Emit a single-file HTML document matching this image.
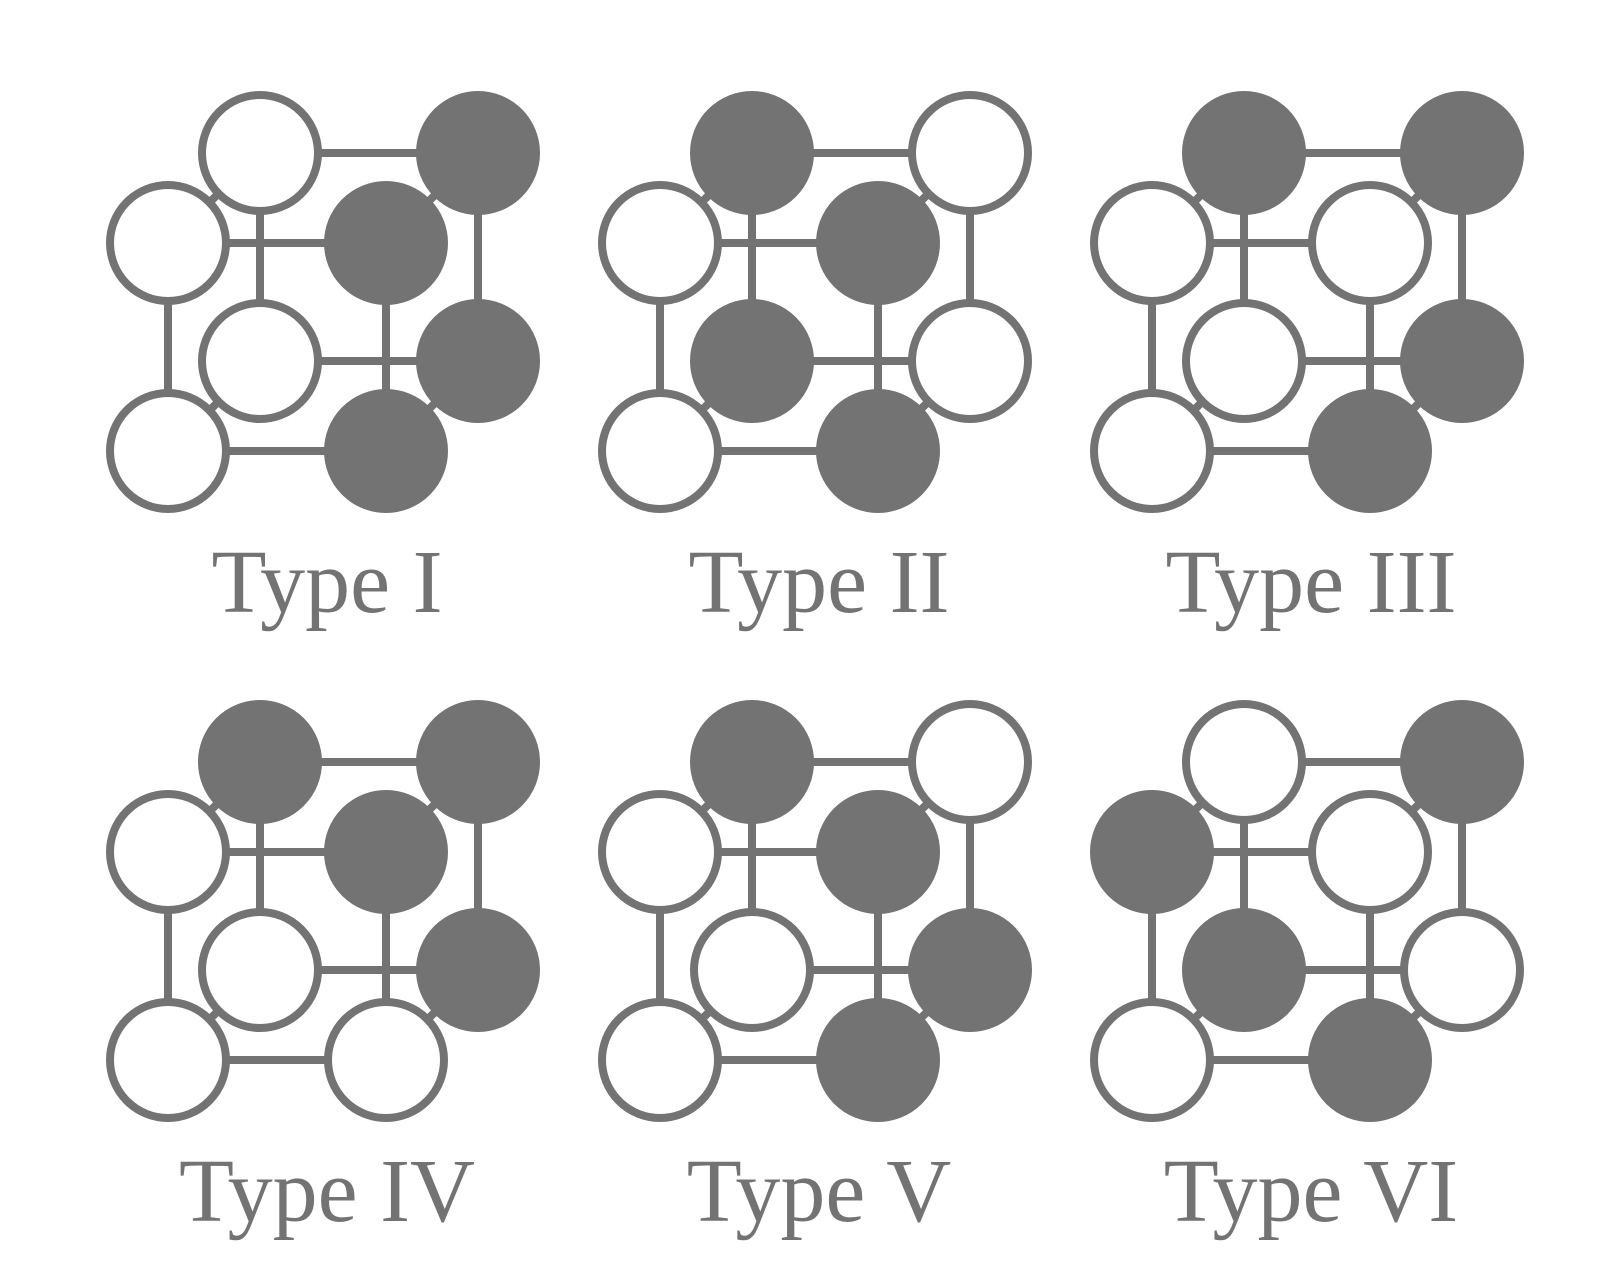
<!DOCTYPE html>
<html><head><meta charset="utf-8"><style>
html,body{margin:0;padding:0;background:#fff;}
svg{display:block;}
</style></head><body>
<svg id="fig" width="1623" height="1278" viewBox="0 0 1623 1278" xmlns="http://www.w3.org/2000/svg"></svg>
<script>
const typeNames = ["Type I","Type II","Type III","Type IV","Type V","Type VI"];
// filled flags in order: TBL, TBR, TFL, TFR, BBL, BBR, BFL, BFR
const fills = [
  [0,1,0,1,0,1,0,1],
  [1,0,0,1,1,0,0,1],
  [1,1,0,0,0,1,0,1],
  [1,1,0,1,0,1,0,0],
  [1,0,0,1,0,1,0,1],
  [0,1,1,0,1,0,0,1]
];
const nodeNames = ["top-back-left","top-back-right","top-front-left","top-front-right","bottom-back-left","bottom-back-right","bottom-front-left","bottom-front-right"];
const ns = "http://www.w3.org/2000/svg";
const svg = document.getElementById("fig");
const G = "#737373";
const S = 218, H = 208, BX = 92, BY = -90, R = 58;
function pos(i){
  const back = (i===0||i===1||i===4||i===5);
  const right = i%2===1;
  const bottom = i>=4;
  return [(right?S:0)+(back?BX:0),(bottom?H:0)+(back?BY:0)];
}
const edges = [[0,1],[2,3],[4,5],[6,7],[0,2],[1,3],[4,6],[5,7],[0,4],[1,5],[2,6],[3,7]];
typeNames.forEach((name,t)=>{
  const ox = 168 + (t%3)*492, oy = 243 + Math.floor(t/3)*609;
  const g = document.createElementNS(ns,"g");
  
  
  svg.appendChild(g);
  edges.forEach(e=>{
    const a=pos(e[0]), b=pos(e[1]);
    const l=document.createElementNS(ns,"line");
    
    
    l.setAttribute("x1",ox+a[0]);l.setAttribute("y1",oy+a[1]);
    l.setAttribute("x2",ox+b[0]);l.setAttribute("y2",oy+b[1]);
    l.setAttribute("stroke",G);l.setAttribute("stroke-width","8");
    g.appendChild(l);
  });
  [0,1,4,5,2,3,6,7].forEach(i=>{
    const p=pos(i);
    const c=document.createElementNS(ns,"circle");
    
    
    c.setAttribute("cx",ox+p[0]);c.setAttribute("cy",oy+p[1]);
    c.setAttribute("r",R);
    c.setAttribute("fill",fills[t][i]?G:"#fff");
    c.setAttribute("stroke",G);c.setAttribute("stroke-width","8");
    g.appendChild(c);
  });
  const tx=document.createElementNS(ns,"text");
  
  
  tx.setAttribute("x",ox+159);tx.setAttribute("y",oy+369);
  tx.setAttribute("text-anchor","middle");
  tx.setAttribute("font-family","Liberation Serif, serif");
  tx.setAttribute("font-size","90");
  tx.setAttribute("fill",G);
  tx.textContent=name;
  g.appendChild(tx);
});
</script>
</body></html>
